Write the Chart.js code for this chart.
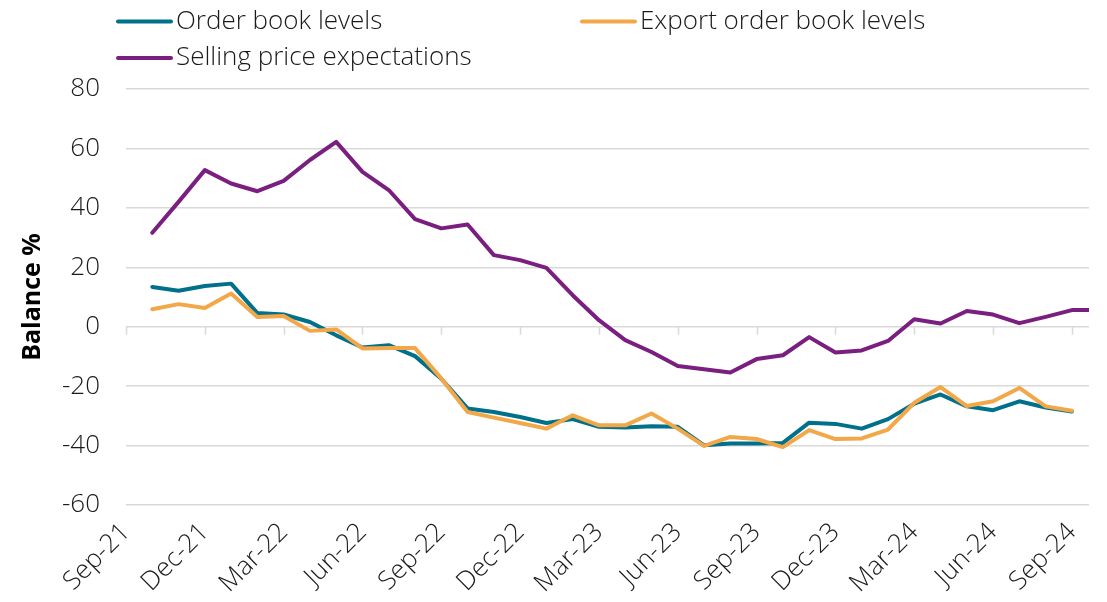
<!DOCTYPE html>
<html>
<head>
<meta charset="utf-8">
<script src="https://cdn.jsdelivr.net/npm/chart.js@4.4.0/dist/chart.umd.min.js"></script>
<style>
  html, body { margin: 0; padding: 0; background: #fff; }
  #wrap { width: 1107px; height: 602px; }
</style>
</head>
<body>
<div id="wrap"><canvas id="chart" width="1107" height="602"></canvas></div>
<script>
// months on the axis, Sep-21 is the origin
const months = ['Sep-21','Oct-21','Nov-21','Dec-21','Jan-22','Feb-22','Mar-22','Apr-22','May-22','Jun-22',
  'Jul-22','Aug-22','Sep-22','Oct-22','Nov-22','Dec-22','Jan-23','Feb-23','Mar-23','Apr-23','May-23','Jun-23',
  'Jul-23','Aug-23','Sep-23','Oct-23','Nov-23','Dec-23','Jan-24','Feb-24','Mar-24','Apr-24','May-24','Jun-24',
  'Jul-24','Aug-24','Sep-24','Oct-24'];
const tickLabels = ['Sep-21','Dec-21','Mar-22','Jun-22','Sep-22','Dec-22','Mar-23','Jun-23','Sep-23','Dec-23','Mar-24','Jun-24','Sep-24'];
const yTicks = [-60, -40, -20, 0, 20, 40, 60, 80];

const orderBook = [null, 13.4, 12.1, 13.7, 14.5, 4.6, 4.1, 1.6, -2.9, -7.0, -6.2, -9.9, -17.5,
  -27.5, -28.7, -30.4, -32.4, -31.1, -33.7, -33.9, -33.5, -33.7, -39.9, -39.3, -39.3,
  -39.1, -32.3, -32.7, -34.3, -31.1, -25.9, -22.8, -26.8, -28.1, -25.1, -27.2, -28.5, null];
const exportOrders = [null, 5.9, 7.6, 6.3, 11.2, 3.3, 3.6, -1.4, -0.9, -7.3, -7.2, -7.2, -17.4,
  -28.7, -30.6, -32.4, -34.3, -29.8, -33.2, -33.2, -29.2, -34.3, -40.1, -37.1, -37.8,
  -40.5, -34.8, -37.8, -37.6, -34.6, -25.6, -20.3, -26.7, -25.1, -20.6, -26.8, -28.3, null];
const sellingPrice = [null, 31.6, 42.0, 52.7, 48.2, 45.6, 49.1, 56.1, 62.2, 52.1, 46.0, 36.2, 33.1,
  34.4, 24.1, 22.4, 19.8, 10.6, 2.2, -4.5, -8.5, -13.2, -14.3, -15.4, -10.9,
  -9.6, -3.5, -8.7, -8.0, -4.8, 2.5, 1.1, 5.3, 4.1, 1.2, 3.3, 5.6, 5.6];

const FONT = '"Open Sans", Roboto, "Liberation Sans", sans-serif';
const GRID = '#d9d9d9';

function points(series) {
  return months.map((m, i) => ({ x: i, y: series[i] }));
}

// legend drawn by hand so the two columns line up like the original
const legendPos = [{ x: 118, y: 21.5 }, { x: 582, y: 21.5 }, { x: 118, y: 58 }];
const legendOrder = [0, 1, 2];
const customLegend = {
  id: 'customLegend',
  afterDraw(chart) {
    const c = chart.ctx;
    c.save();
    c.font = '300 26px ' + FONT;
    c.textBaseline = 'middle';
    c.textAlign = 'left';
    legendOrder.forEach((di, k) => {
      const ds = chart.data.datasets[di];
      const p = legendPos[k];
      c.strokeStyle = ds.borderColor;
      c.lineWidth = 4;
      c.lineCap = 'round';
      c.beginPath();
      c.moveTo(p.x, p.y);
      c.lineTo(p.x + 53, p.y);
      c.stroke();
      c.fillStyle = '#1a1a1a';
      c.fillText(ds.label, p.x + 58, p.y);
    });
    c.restore();
  }
};

// small tick marks hanging below the zero line
const zeroTicks = {
  id: 'zeroTicks',
  beforeDatasetsDraw(chart) {
    const c = chart.ctx;
    const xs = chart.scales.x, ys = chart.scales.y;
    const y0 = ys.getPixelForValue(0);
    c.save();
    c.strokeStyle = GRID;
    c.lineWidth = 1.5;
    c.beginPath();
    xs.ticks.forEach(t => {
      const x = Math.round(xs.getPixelForValue(t.value)) + 0.5;
      c.moveTo(x, y0);
      c.lineTo(x, y0 + 8);
    });
    c.stroke();
    c.restore();
  }
};

new Chart(document.getElementById('chart').getContext('2d'), {
  type: 'line',
  data: {
    datasets: [
      { label: 'Order book levels', data: points(orderBook), borderColor: '#00708B', order: 1 },
      { label: 'Export order book levels', data: points(exportOrders), borderColor: '#F2A748', order: 0 },
      { label: 'Selling price expectations', data: points(sellingPrice), borderColor: '#7A1E80', order: 2 }
    ]
  },
  options: {
    responsive: false,
    animation: false,
    layout: { padding: { top: 89, right: 18, left: 0, bottom: 0 } },
    elements: {
      line: { borderWidth: 4, tension: 0, borderJoinStyle: 'round', borderCapStyle: 'round', fill: false },
      point: { radius: 0 }
    },
    plugins: {
      legend: { display: false },
      tooltip: { enabled: false }
    },
    scales: {
      x: {
        type: 'linear',
        min: 0,
        max: 36.65,
        afterBuildTicks(axis) {
          axis.ticks = tickLabels.map(l => ({ value: months.indexOf(l) }));
        },
        afterFit(axis) { axis.height = 97; },
        grid: { display: false, drawTicks: false },
        border: { display: false },
        ticks: {
          autoSkip: false,
          maxRotation: 45,
          minRotation: 45,
          padding: 12,
          color: '#1a1a1a',
          font: { family: FONT, size: 26, weight: 300 },
          callback: v => months[v]
        }
      },
      y: {
        min: -60,
        max: 80,
        afterBuildTicks(axis) {
          axis.ticks = yTicks.map(v => ({ value: v }));
        },
        afterFit(axis) { axis.width = 126; },
        grid: { color: GRID, lineWidth: 1.5, drawTicks: false },
        border: { display: false },
        ticks: {
          padding: 26,
          color: '#1a1a1a',
          font: { family: FONT, size: 26, weight: 300 }
        },
        title: {
          display: true,
          text: 'Balance %',
          color: '#000',
          padding: { top: 18, bottom: 0 },
          font: { family: FONT, size: 25, weight: 'bold' }
        }
      }
    }
  },
  plugins: [zeroTicks, customLegend]
});
</script>
</body>
</html>
